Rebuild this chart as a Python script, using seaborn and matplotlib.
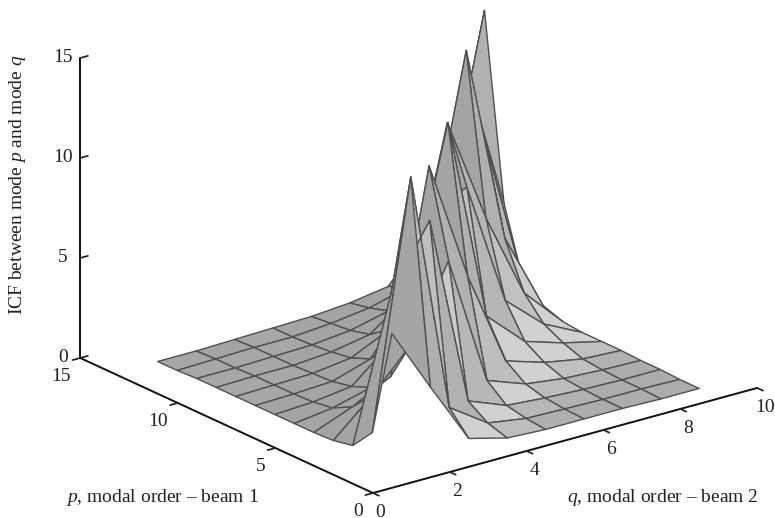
import numpy as np
import matplotlib
matplotlib.use("Agg")
import matplotlib.pyplot as plt
import seaborn as sns
from mpl_toolkits.mplot3d import proj3d

# modal orders on the surface grid
q_modes = [1, 2, 3, 4, 5, 6, 7, 8, 9]
p_modes = [1, 2, 3, 4, 5, 6, 7, 8, 9, 10, 11, 12, 13]

# ICF, one list per p
icf_p1 = [7.0, 3.8, 0.7, 0.2, 0.1, 0.1, 0.1, 0.05, 0.05]
icf_p2 = [1.6, 13.85, 1.8, 0.5, 0.2, 0.15, 0.1, 0.1, 0.05]
icf_p3 = [0.5, 7.6, 10.7, 1.15, 0.4, 0.25, 0.15, 0.1, 0.1]
icf_p4 = [0.3, 2.0, 4.0, 7.7, 1.2, 0.5, 0.25, 0.15, 0.1]
icf_p5 = [0.25, 1.0, 2.0, 12.0, 6.0, 1.2, 0.6, 0.25, 0.15]
icf_p6 = [0.25, 0.5, 1.0, 5.0, 13.2, 3.0, 1.2, 0.6, 0.15]
icf_p7 = [0.25, 0.35, 0.6, 2.2, 8.0, 9.0, 2.8, 1.1, 0.15]
icf_p8 = [0.25, 0.3, 0.4, 1.0, 3.5, 11.75, 6.5, 2.2, 0.25]
icf_p9 = [0.25, 0.3, 0.35, 0.6, 1.5, 5.0, 14.4, 4.5, 0.6]
icf_p10 = [0.25, 0.3, 0.3, 0.45, 0.8, 2.2, 5.0, 8.85, 1.3]
icf_p11 = [0.25, 0.25, 0.3, 0.35, 0.55, 1.0, 2.4, 12.0, 4.8]
icf_p12 = [0.2, 0.25, 0.3, 0.3, 0.45, 0.7, 1.2, 5.0, 14.0]
icf_p13 = [0.2, 0.2, 0.25, 0.3, 0.35, 0.5, 0.8, 3.0, 8.6]

q_ticks = [0, 2, 4, 6, 8, 10]
p_ticks = [0, 5, 10, 15]
z_ticks = [0, 5, 10, 15]

sns.set_theme(style="white")
plt.rcParams["font.family"] = ["Liberation Serif", "DejaVu Serif"]
plt.rcParams["mathtext.fontset"] = "custom"
plt.rcParams["mathtext.it"] = "Liberation Serif:italic"
plt.rcParams["mathtext.rm"] = "Liberation Serif"

icf = np.array([icf_p1, icf_p2, icf_p3, icf_p4, icf_p5, icf_p6, icf_p7,
                icf_p8, icf_p9, icf_p10, icf_p11, icf_p12, icf_p13])
Q, P = np.meshgrid(q_modes, p_modes)


def face_greys(z):
    # gentle slopes facing right come out lightest, as in the scan
    dzdq = (z[:-1, 1:] + z[1:, 1:] - z[:-1, :-1] - z[1:, :-1]) / 2 * 21.4 / 48.5
    dzdp = (z[1:, :-1] + z[1:, 1:] - z[:-1, :-1] - z[:-1, 1:]) / 2 * 21.4 / 32
    norm = np.sqrt(dzdq ** 2 + dzdp ** 2 + 1)
    nx, ny, nz = -dzdq / norm, -dzdp / norm, 1 / norm
    lit = (nx * 0.8 - ny * 0.6) * nz ** 2
    grey = np.clip(0.665 + 0.55 * lit, 0.645, 0.82)
    return np.dstack([grey, grey, grey, np.ones_like(grey)])


fig = plt.figure(figsize=(7.75, 5.18), dpi=100)
ax = fig.add_axes([0, 0, 1, 1], projection="3d", proj_type="ortho")
ax.view_init(elev=20.8, azim=-127.6)
ax.set_xlim(0, 10)
ax.set_ylim(0, 15)
ax.set_zlim(0, 15)
aspect = (485, 480, 321)
ax.set_box_aspect(aspect, zoom=1.0)

surf = ax.plot_surface(Q, P, icf, rstride=1, cstride=1, facecolors=face_greys(icf),
                       edgecolor="#505050", linewidth=1.0, antialiased=True, shade=False)
surf.set_clip_on(False)

ax.set_xticks(q_ticks)
ax.set_yticks(p_ticks)
ax.set_zticks(z_ticks)
ax.grid(False)
for axis in (ax.xaxis, ax.yaxis, ax.zaxis):
    axis.set_pane_color((1, 1, 1, 0))
    axis.pane.set_edgecolor((1, 1, 1, 0))
    axis.line.set_color("#111111")
    axis.line.set_linewidth(1.4)
    axis._axinfo["tick"]["color"] = "#111111"
    axis._axinfo["tick"]["inward_factor"] = 0.25
    axis._axinfo["tick"]["outward_factor"] = 0.0
ax.zaxis._axinfo["tick"]["inward_factor"] = 0.0
ax.zaxis._axinfo["tick"]["outward_factor"] = 0.25
ax.tick_params(axis="x", labelsize=14, colors="#222222", pad=-3)
ax.tick_params(axis="y", labelsize=14, colors="#222222", pad=-3)
ax.tick_params(axis="z", labelsize=14, colors="#222222", pad=-3)
for lab in ax.get_yticklabels():
    lab.set_ha("right")
for lab in ax.get_zticklabels():
    lab.set_va("center")


def to_pixels(q, p, z):
    x, y, _ = proj3d.proj_transform(q, p, z, ax.get_proj())
    return ax.transData.transform((x, y))


# scale and shift the box so the axes land where the reference has them
fig.canvas.draw()
z_low = to_pixels(0, 15, 0)
z_top = to_pixels(0, 15, 15)
ax.set_box_aspect(aspect, zoom=300 / (z_top[1] - z_low[1]))
fig.canvas.draw()
origin = to_pixels(0, 0, 0)
dx = (373 - origin[0]) / 775
dy = ((518 - 493) - origin[1]) / 518
ax.set_position([dx, dy, 1, 1])

fig.text(18 / 775, 1 - 185 / 518, r"ICF between mode $p$ and mode $q$", rotation=90,
         ha="center", va="center", fontsize=14, color="#222222")
fig.text(162 / 775, 1 - 498 / 518, r"$p$, modal order – beam 1", ha="center", va="center",
         fontsize=14, color="#222222")
fig.text(663 / 775, 1 - 498 / 518, r"$q$, modal order – beam 2", ha="center", va="center",
         fontsize=14, color="#222222")

fig.savefig("out.png", dpi=100)
